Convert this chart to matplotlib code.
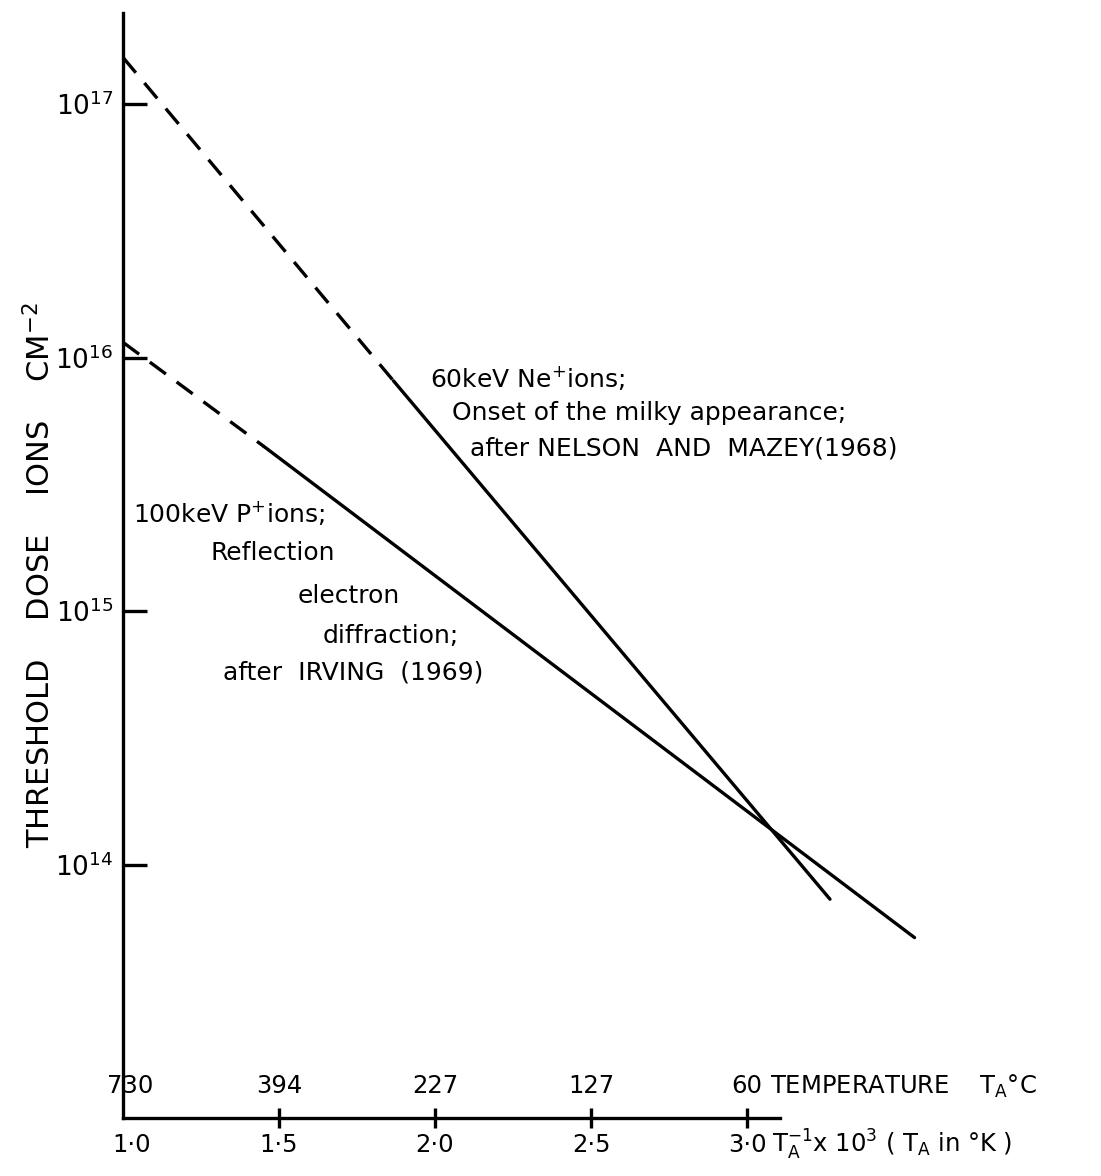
import numpy as np
import matplotlib
matplotlib.use('Agg')
import matplotlib.pyplot as plt
from matplotlib.ticker import NullLocator

# reciprocal annealing temperature (1000/T_A, T_A in K) and threshold dose (ions/cm^2)
ne_dashed_x = [1.0, 1.867]
ne_dashed_dose = [1.53e17, 8.1e15]
ne_solid_x = [1.867, 3.266]
ne_solid_dose = [8.1e15, 7.3e13]

p_dashed_x = [1.0, 1.452]
p_dashed_dose = [1.15e16, 4.46e15]
p_solid_x = [1.452, 3.537]
p_solid_dose = [4.46e15, 5.15e13]

dose_ticks = [1e14, 1e15, 1e16, 1e17]
dose_labels = [r'$\mathregular{10^{14}}$', r'$\mathregular{10^{15}}$',
               r'$\mathregular{10^{16}}$', r'$\mathregular{10^{17}}$']

inv_temp_ticks = [1.0, 1.5, 2.0, 2.5, 3.0]
inv_temp_labels = ['1·0', '1·5', '2·0', '2·5', '3·0']
temp_c_labels = ['730', '394', '227', '127', '60']

plt.rcParams['font.family'] = ['DejaVu Sans']
plt.rcParams['mathtext.default'] = 'regular'

fig = plt.figure(figsize=(11.01, 11.76), dpi=100)
ax = fig.add_axes([123 / 1101, 58 / 1176, 967 / 1101, 1105 / 1176])
ax.set_yscale('log')
ax.set_xlim(1.0, 1 + 967 / 312)
ax.set_ylim(1e13, 10 ** 17.36)

lw = 2.4
ax.plot(ne_dashed_x, ne_dashed_dose, color='black', lw=lw, dashes=(6, 4))
ax.plot(ne_solid_x, ne_solid_dose, color='black', lw=lw, solid_capstyle='round')
ax.plot(p_dashed_x, p_dashed_dose, color='black', lw=lw, dashes=(6, 4))
ax.plot(p_solid_x, p_solid_dose, color='black', lw=lw, solid_capstyle='round')

# axes: only left spine and a short bottom spine
for s in ['top', 'right']:
    ax.spines[s].set_visible(False)
ax.spines['left'].set_linewidth(lw)
ax.spines['bottom'].set_linewidth(lw)
ax.spines['bottom'].set_bounds(1.0, 3.106)

ax.set_yticks(dose_ticks)
ax.set_yticklabels(dose_labels)
ax.yaxis.set_minor_locator(NullLocator())
ax.tick_params(axis='y', direction='in', length=17, width=lw, pad=7, labelsize=19)

ax.set_xticks(inv_temp_ticks[1:])
ax.tick_params(axis='x', direction='inout', length=15, width=lw, labelbottom=False)

# two rows of x labels: temperature in C above, 1000/T below
tr = ax.get_xaxis_transform()
for i, (xv, top, bot) in enumerate(zip(inv_temp_ticks, temp_c_labels, inv_temp_labels)):
    ax.text(xv + (0.022 if i == 0 else 0.0), 0.029, top, transform=tr,
            ha='center', va='center', fontsize=17.5)
    ax.text(xv + (0.029 if i == 0 else 0.0), -0.0245, bot, transform=tr,
            ha='center', va='center', fontsize=17.5)
ax.text(3.075, 0.029, r'TEMPERATURE    $T_A$°C', transform=tr, ha='left', va='center',
        fontsize=17.5)
ax.text(3.08, -0.0245, r'$T_A^{-1}$x 10$^3$ ( $T_A$ in °K )', transform=tr, ha='left',
        va='center', fontsize=17.5)

fig.text(40 / 1101, 1 - 575 / 1176, r'THRESHOLD    DOSE    IONS    CM$^{-2}$', rotation=90,
         ha='center', va='center', fontsize=22)

# curve annotations
ne_lines = [(1.984, 10 ** 15.92, r'60keV Ne$^{+}$ions;'),
            (2.054, 10 ** 15.78, 'Onset of the milky appearance;'),
            (2.112, 10 ** 15.64, 'after NELSON  AND  MAZEY(1968)')]
p_lines = [(1.032, 10 ** 15.389, r'100keV P$^{+}$ions;'),
           (1.279, 10 ** 15.231, 'Reflection'),
           (1.561, 10 ** 15.061, 'electron'),
           (1.641, 10 ** 14.903, 'diffraction;'),
           (1.321, 10 ** 14.757, 'after  IRVING  (1969)')]
for xv, yv, s in ne_lines + p_lines:
    ax.text(xv, yv, s, ha='left', va='center', fontsize=18)

fig.savefig('out.png', dpi=100)
